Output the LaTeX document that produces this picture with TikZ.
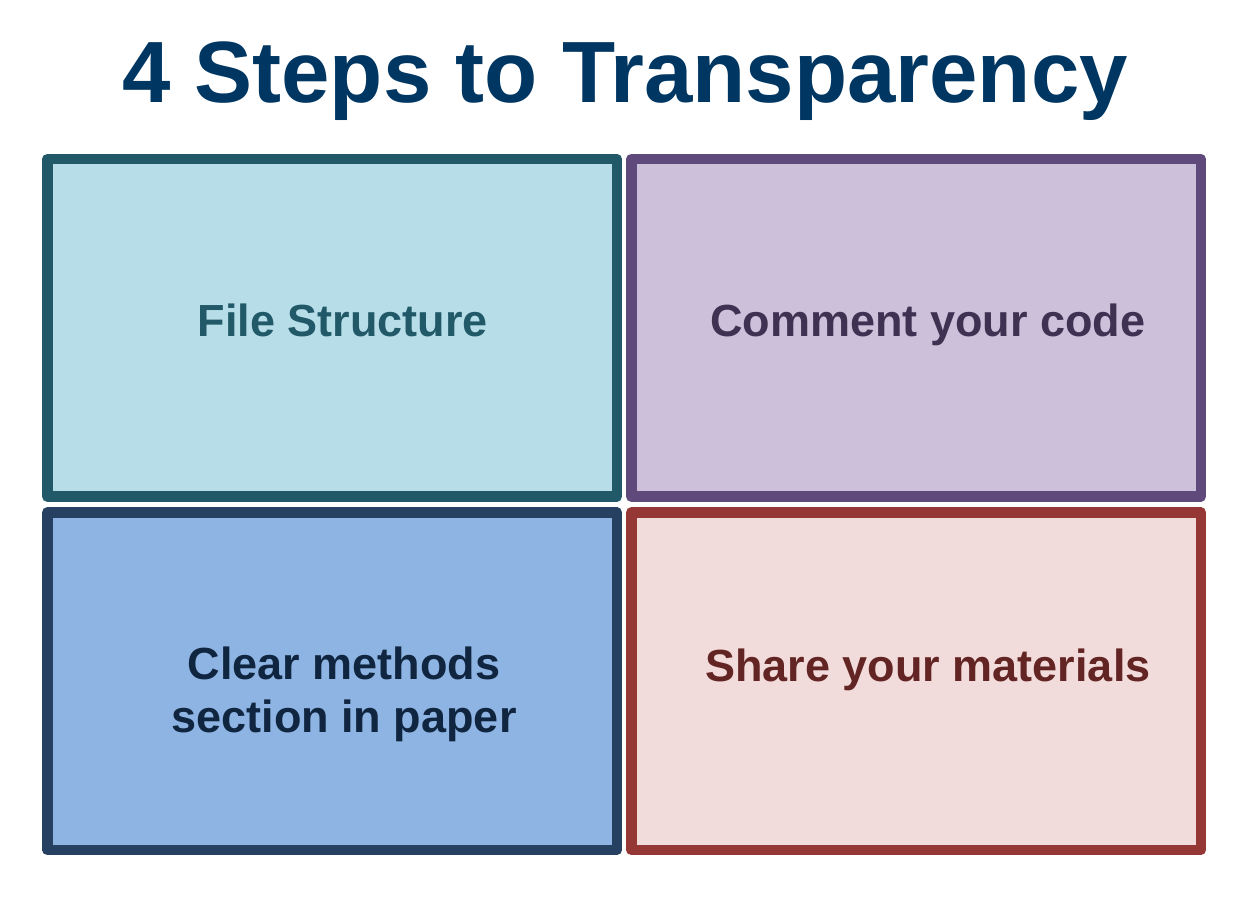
\documentclass[tikz,border=0pt]{standalone}
\usepackage{fontspec}
\setmainfont{Liberation Sans}
\usetikzlibrary{positioning}
\definecolor{titleblue}{RGB}{0,54,98}
\definecolor{fsfill}{RGB}{183,222,232}
\definecolor{fsline}{RGB}{33,89,104}
\definecolor{ccfill}{RGB}{204,192,218}
\definecolor{ccline}{RGB}{96,74,123}
\definecolor{cctext}{RGB}{64,49,82}
\definecolor{cmfill}{RGB}{142,180,227}
\definecolor{cmline}{RGB}{37,64,97}
\definecolor{cmtext}{RGB}{16,37,63}
\definecolor{smfill}{RGB}{242,220,219}
\definecolor{smline}{RGB}{149,55,53}
\definecolor{smtext}{RGB}{99,37,35}
\begin{document}
\begin{tikzpicture}[x=1pt, y=1pt, node distance = 5.5pt and 4pt,
                    box/.style = {draw, line width=10.5pt, line join=round,
                                  minimum width=569.5pt, minimum height=337.5pt},
                    lbl/.style = {anchor=base, font=\fontsize{45}{53}\selectfont\bfseries, align=center}]
    \useasboundingbox (0,0) rectangle (1259,903);
    \node[anchor=base, text=titleblue, font=\fontsize{87}{100}\selectfont\bfseries] (title) at (625,800) {4 Steps to Transparency};
    % the four boxes
    \node[box, draw=fsline, fill=fsfill] (fs) at (332,575.25) {};
\node[box, draw=ccline, fill=ccfill, right= of fs] (cc) {};
\node[box, draw=cmline, fill=cmfill, below= of fs] (cm) {};
\node[box, draw=smline, fill=smfill, below= of cc] (sm) {};
    % labels
    \node[lbl, text=fsline] (fstext) at ([xshift=11pt, yshift=-9pt]fs.center) {File Structure};
\node[lbl, text=cctext] (cctext) at ([xshift=12pt, yshift=-9pt]cc.center) {Comment your code};
\node[lbl, text=cmtext] (cmtext) at ([xshift=12pt, yshift=-51pt]cm.center) {Clear methods\\section in paper};
\node[lbl, text=smtext] (smtext) at ([xshift=12pt, yshift=0pt]sm.center) {Share your materials};
\end{tikzpicture}
\end{document}
